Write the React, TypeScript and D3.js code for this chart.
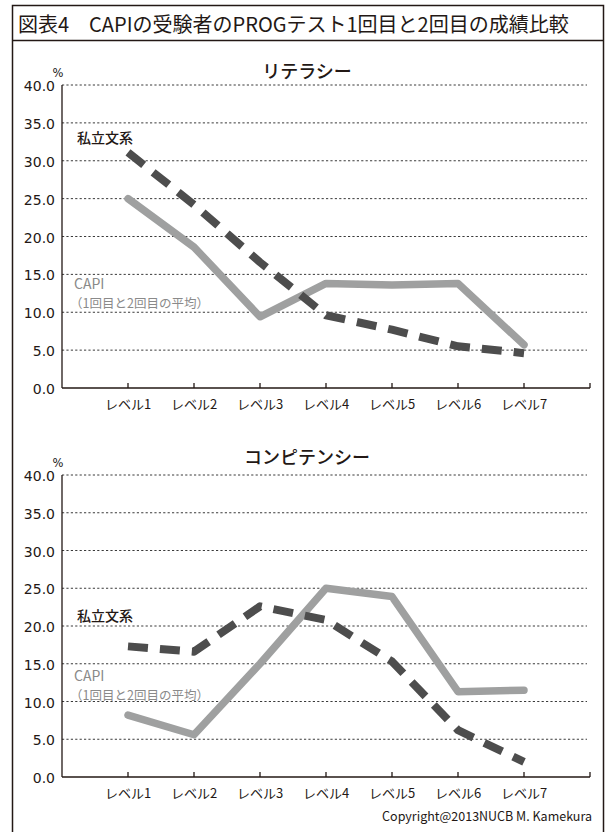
import React from "react";
import * as d3 from "d3";

const categories = ["レベル1", "レベル2", "レベル3", "レベル4", "レベル5", "レベル6", "レベル7"];
const yTicks = [0, 5, 10, 15, 20, 25, 30, 35, 40];

const literacyCapi = [25.0, 18.6, 9.4, 13.8, 13.6, 13.8, 5.7];
const literacyPrivate = [31.1, 24.2, 16.6, 9.6, 7.7, 5.5, 4.6];
const competencyCapi = [8.2, 5.6, 15.0, 25.0, 23.9, 11.3, 11.5];
const competencyPrivate = [17.3, 16.6, 22.6, 20.8, 15.3, 6.2, 2.0];

const TITLE = "図表4　CAPIの受験者のPROGテスト1回目と2回目の成績比較";
const COPYRIGHT = "Copyright@2013NUCB M. Kamekura";
const FONT = "'Noto Sans CJK JP', 'Noto Sans', sans-serif";
const NUM_FONT = "'DejaVu Sans', sans-serif";

const x = d3.scaleLinear().domain([0, categories.length + 1]).range([62, 590]);

type ChartProps = {
  title: string;
  capi: number[];
  priv: number[];
  top: number;
  bottom: number;
  titleY: number;
  privLabelY: number;
  capiLabelY: number;
};

function Chart({ title, capi, priv, top, bottom, titleY, privLabelY, capiLabelY }: ChartProps) {
  const y = d3.scaleLinear().domain([0, 40]).range([bottom, top]);
  const line = d3
    .line<number>()
    .x((_, i) => x(i + 1))
    .y((d) => y(d));
  const x0 = x(0);
  const x1 = x(categories.length + 1);
  return (
    <g>
      <text x={307} y={titleY} textAnchor="middle" dominantBaseline="central" fontSize={18} fontWeight={500} fill="#231815">
        {title}
      </text>
      <text x={58} y={top - 12} textAnchor="middle" dominantBaseline="central" fontSize={11.5} fontFamily={NUM_FONT} fill="#231815">
        %
      </text>
      {yTicks.map((t) => (
        <g key={t}>
          {t > 0 && (
            <line x1={x0} x2={587} y1={y(t)} y2={y(t)} stroke="#3a3a3a" strokeWidth={1} strokeDasharray="2.2,2.2" />
          )}
          <text x={55} y={y(t) + 1} textAnchor="end" dominantBaseline="central" fontSize={14} fontFamily={NUM_FONT} fill="#231815">
            {t.toFixed(1)}
          </text>
        </g>
      ))}
      <line x1={x0} x2={x0} y1={top} y2={bottom} stroke="#231815" strokeWidth={1.3} />
      <line x1={x0} x2={x1} y1={bottom} y2={bottom} stroke="#231815" strokeWidth={1.3} />
      {categories.map((c, i) => (
        <g key={c}>
          <line x1={x(i + 1)} x2={x(i + 1)} y1={bottom} y2={bottom - 5} stroke="#231815" strokeWidth={1.3} />
          <text x={x(i + 1)} y={bottom + 15} textAnchor="middle" dominantBaseline="central" fontSize={13} fill="#231815">
            {c}
          </text>
        </g>
      ))}
      <line x1={x1} x2={x1} y1={bottom} y2={bottom - 5} stroke="#231815" strokeWidth={1.3} />
      <path d={line(capi) || ""} fill="none" stroke="#9fa0a0" strokeWidth={7.5} strokeLinejoin="round" strokeLinecap="round" />
      <path d={line(priv) || ""} fill="none" stroke="#4d4d4d" strokeWidth={8} strokeDasharray="20,12" strokeLinejoin="round" />
      <text x={77} y={privLabelY} dominantBaseline="central" fontSize={14} fontWeight={500} fill="#231815">
        私立文系
      </text>
      <text x={74} y={capiLabelY - 2} dominantBaseline="central" fontSize={14} fill="#8a8a8a">
        CAPI
      </text>
      <text x={70} y={capiLabelY + 17} dominantBaseline="central" fontSize={12.5} fill="#8a8a8a">
        （1回目と2回目の平均）
      </text>
    </g>
  );
}

export default function App() {
  return (
    <svg
      width={606}
      height={832}
      viewBox="0 0 606 832"
      style={{ position: "absolute", left: 0, top: 0, background: "#fff" }}
      fontFamily={FONT}
    >
      <rect x={0} y={0} width={606} height={832} fill="#fff" />
      <rect x={12.5} y={5.5} width={591} height={840} fill="none" stroke="#231815" strokeWidth={1.5} />
      <line x1={12.5} x2={603.5} y1={40.5} y2={40.5} stroke="#231815" strokeWidth={1.5} />
      <text x={18} y={23} dominantBaseline="central" fontSize={20} fontWeight={400} fill="#231815">
        {TITLE}
      </text>
      <Chart
        title="リテラシー"
        capi={literacyCapi}
        priv={literacyPrivate}
        top={85}
        bottom={388}
        titleY={70}
        privLabelY={137}
        capiLabelY={285}
      />
      <Chart
        title="コンピテンシー"
        capi={competencyCapi}
        priv={competencyPrivate}
        top={475}
        bottom={777}
        titleY={456}
        privLabelY={615}
        capiLabelY={677}
      />
      <text x={592} y={815} textAnchor="end" dominantBaseline="central" fontSize={12.5} fill="#231815">
        {COPYRIGHT}
      </text>
    </svg>
  );
}
